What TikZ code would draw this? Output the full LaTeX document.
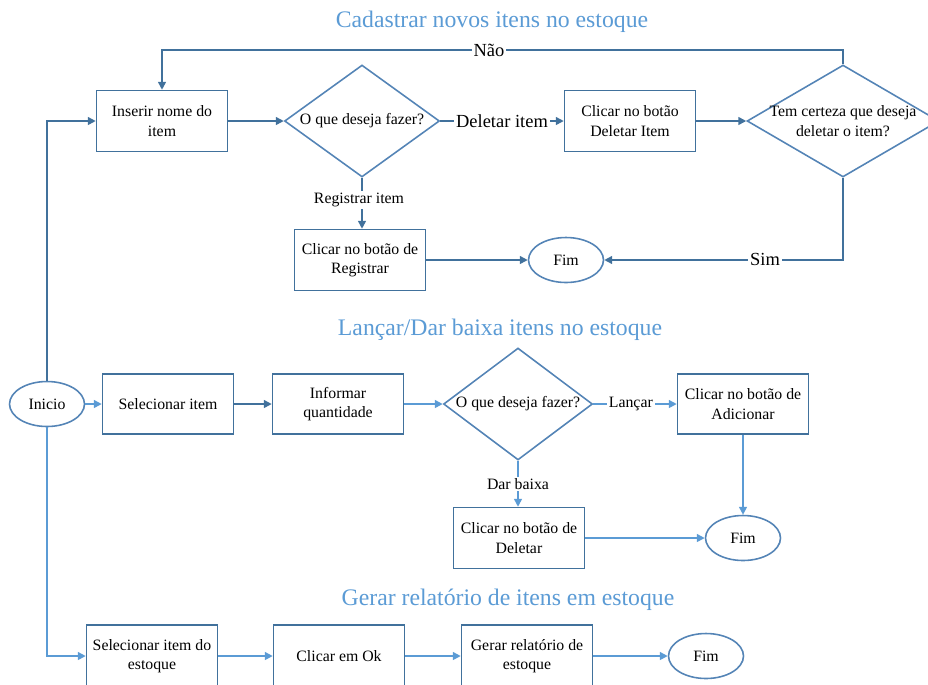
\documentclass[tikz,border=0pt]{standalone}
\usepackage{fontspec}
\setmainfont{Liberation Serif}
\usetikzlibrary{shapes.geometric,arrows.meta}
\definecolor{dk}{RGB}{65,113,156}
\definecolor{md}{RGB}{84,132,182}
\definecolor{lt}{RGB}{91,155,213}
\tikzset{
  every node/.style={font=\rmfamily\fontsize{9}{11}\selectfont, text=black},
  stepbox/.style={draw=dk, line width=0.9pt, rectangle, align=center, inner sep=0pt,
    minimum width=2.62cm, minimum height=1.22cm},
  decision/.style={draw=md, line width=0.9pt, diamond, inner sep=0pt},
  terminal/.style={draw=md, line width=0.9pt, ellipse, inner sep=0pt,
    minimum width=1.5cm, minimum height=0.9cm},
  title/.style={text=lt, font=\rmfamily\fontsize{13.5}{16}\selectfont},
  flow/.style={line width=0.9pt, -{Triangle[length=4.5pt,width=4.5pt]}},
  tag/.style={fill=white, text=black, inner sep=1pt},
  bigtag/.style={fill=white, text=black, inner sep=1pt, font=\rmfamily\fontsize{10.5}{12}\selectfont},
}
\begin{document}
\begin{tikzpicture}[x=0.02cm, y=-0.02cm]
\useasboundingbox (0,0) rectangle (928,684);

% ---- section titles
\node[title] (t1) at (492,22) {Cadastrar novos itens no estoque};
\node[title] (t2) at (500,330) {Lançar/Dar baixa itens no estoque};
\node[title] (t3) at (508,600) {Gerar relatório de itens em estoque};

% ---- start
\node[terminal] (ini) at (47,404) {Inicio};

% ---- register / delete items
\node[stepbox] (b1) at (162,121) {Inserir nome do\\item};
\node[decision, minimum width=3.1cm, minimum height=2.24cm,
  label={center:O que deseja fazer?}] (d1) at (362,121) {};
\node[stepbox] (b2) at (630,121) {Clicar no botão\\Deletar Item};
\node[decision, minimum width=3.84cm, minimum height=2.24cm,
  label={[align=center]center:Tem certeza que deseja\\deletar o item?}] (d2) at (843,121) {};
\node[stepbox] (b3) at (360,260) {Clicar no botão de\\Registrar};
\node[terminal] (f1) at (566,260) {Fim};
\coordinate (top) at (0,50);

\draw[flow, dk] (ini.north) |- (b1.west);
\draw[flow, dk] (b1.east) -- (d1.west);
\draw[flow, dk] (d1.east) -- node[bigtag] (del) {Deletar item} (b2.west);
\draw[flow, dk] (b2.east) -- (d2.west);
\draw[flow, dk] (d2.north) -- (d2.north |- top) -| (b1.north);
\node[bigtag] (nao) at (489,50) {Não};
\draw[flow, dk] (d2.south) |- (f1.east);
\node[bigtag] (sim) at (765,259) {Sim};
\draw[flow, dk] (d1.south) -- (d1.south |- b3.north);
\node[tag] (reg) at (359,200) {Registrar item};
\draw[flow, dk] (b3.east) -- (f1.west);

% ---- stock in / stock out
\node[stepbox, minimum height=1.2cm] (b4) at (168,404) {Selecionar item};
\node[stepbox, minimum height=1.2cm] (b5) at (338,404) {Informar\\quantidade};
\node[decision, minimum width=2.98cm, minimum height=2.24cm,
  label={center:O que deseja fazer?}] (d3) at (518,404) {};
\node[stepbox, minimum height=1.2cm] (b6) at (743,404) {Clicar no botão de\\Adicionar};
\node[stepbox] (b7) at (519,538) {Clicar no botão de\\Deletar};
\node[terminal] (f2) at (743,538) {Fim};

\draw[flow, lt] (ini.east) -- (b4.west);
\draw[flow, dk] (b4.east) -- (b5.west);
\draw[flow, lt] (b5.east) -- (d3.west);
\draw[flow, lt] (d3.east) -- node[tag, pos=0.45] (lan) {Lançar} (b6.west);
\draw[flow, lt] (b6.south) -- (f2.north);
\draw[flow, lt] (d3.south) -- (d3.south |- b7.north);
\node[tag] (bx) at (518,484) {Dar baixa};
\draw[flow, lt] (b7.east) -- (f2.west);

% ---- stock report
\node[stepbox, minimum height=1.24cm] (b8) at (152,656) {Selecionar item do\\estoque};
\node[stepbox, minimum height=1.24cm] (b9) at (339,656) {Clicar em Ok};
\node[stepbox, minimum height=1.24cm] (b10) at (527,656) {Gerar relatório de\\estoque};
\node[terminal] (f3) at (706,656) {Fim};

\draw[flow, lt] (ini.south) |- (b8.west);
\draw[flow, lt] (b8.east) -- (b9.west);
\draw[flow, lt] (b9.east) -- (b10.west);
\draw[flow, lt] (b10.east) -- (f3.west);
\end{tikzpicture}
\end{document}
